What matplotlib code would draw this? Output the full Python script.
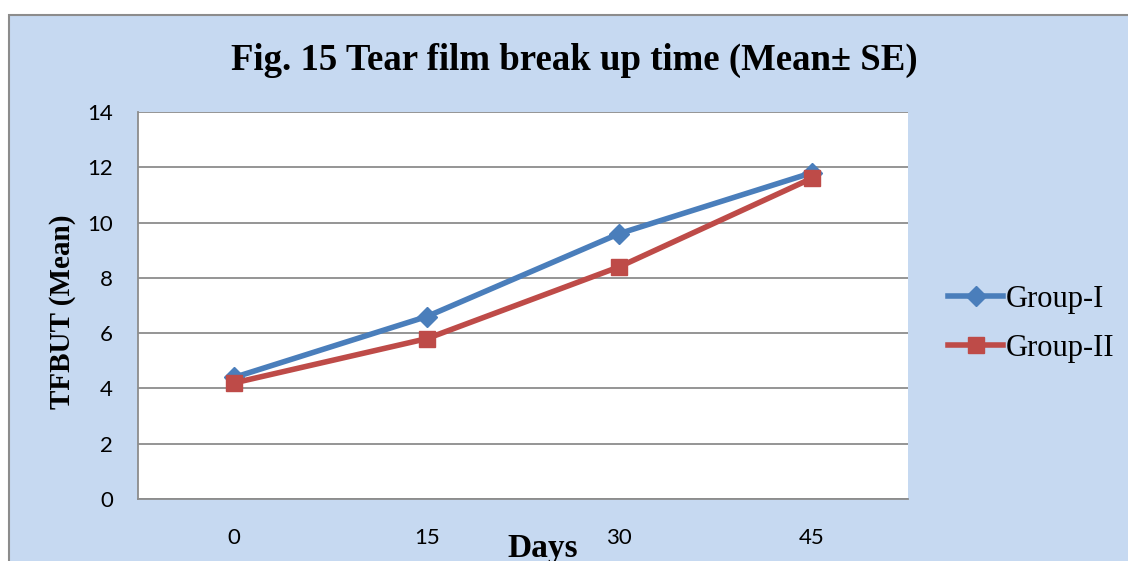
import matplotlib
matplotlib.use('Agg')
import matplotlib.pyplot as plt
from matplotlib.patches import Rectangle

##################################################################
## Data
days = ['0', '15', '30', '45']
group1 = [4.4, 6.6, 9.6, 11.8]
group2 = [4.2, 5.8, 8.4, 11.6]
yticks = [0, 2, 4, 6, 8, 10, 12, 14]

##################################################################
W, H = 1128, 561
fig = plt.figure(figsize=(W/100, H/100), dpi=100)
fig.patch.set_facecolor('white')

# light blue chart area with grey frame
frame = Rectangle((9/W, -0.05), 1.2, 1 - 15/H + 0.05,
                  transform=fig.transFigure, facecolor='#C6D9F1',
                  edgecolor='#8C8C8C', linewidth=1.5, zorder=-1)
fig.add_artist(frame)

ax = fig.add_axes([138/W, 1 - 499/H, (908-138)/W, (499-112)/H])
ax.set_zorder(1)
ax.set_facecolor('white')

x = range(len(days))
ax.plot(x, group1, color='#4A7EBB', linewidth=4, marker='D', markersize=10,
        label='Group-I', zorder=3)
ax.plot(x, group2, color='#BE4B48', linewidth=4, marker='s', markersize=12,
        label='Group-II', zorder=4)

ax.set_xlim(-0.5, 3.5)
ax.set_ylim(0, 14)
ax.set_xticks(list(x))
ax.set_xticklabels(days)
ax.set_yticks(yticks)
ax.yaxis.grid(True, color='#8C8C8C', linewidth=1.3)
ax.set_axisbelow(True)
ax.tick_params(length=0, labelsize=16, pad=21)
ax.tick_params(axis='y', pad=18)
for lab in ax.get_xticklabels() + ax.get_yticklabels():
    lab.set_family('Lato')
for s in ['top', 'right']:
    ax.spines[s].set_visible(False)
for s in ['left', 'bottom']:
    ax.spines[s].set_color('#8C8C8C')
    ax.spines[s].set_linewidth(1.3)

fig.text(574/W, 1 - 60/H, 'Fig. 15 Tear film break up time (Mean\u00b1 SE)',
         ha='center', va='center', fontsize=26.5, fontweight='bold',
         family='Liberation Serif')
fig.text(63/W, 1 - 312/H, 'TFBUT (Mean)', rotation=90, ha='center', va='center',
         fontsize=21, fontweight='bold', family='Liberation Serif')
fig.text(543/W, 1 - 549/H, 'Days', ha='center', va='center',
         fontsize=24, fontweight='bold', family='Liberation Serif')

leg = ax.legend(loc='center left', bbox_to_anchor=(1.052, 0.452), frameon=False,
                prop={'family': 'Liberation Serif', 'size': 22},
                handlelength=1.8, handletextpad=0.1, labelspacing=0.66,
                borderaxespad=0, borderpad=0)

plt.savefig('out.png', dpi=100)
plt.close()
